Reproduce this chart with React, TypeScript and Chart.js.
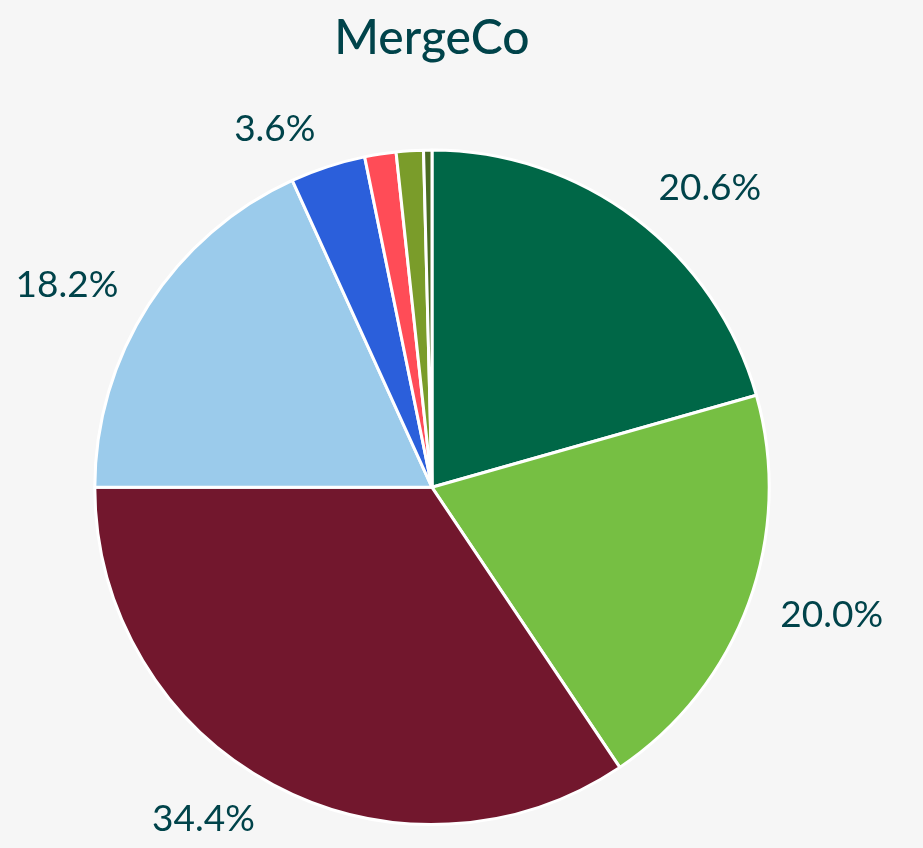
import React, { useEffect, useRef } from "react";
import { Chart, registerables } from "chart.js";

Chart.register(...registerables);

const categories = ["Segment A", "Segment B", "Segment C", "Segment D", "Segment E", "Segment F", "Segment G", "Segment H"];
const values = [20.6, 20.0, 34.4, 18.2, 3.6, 1.5, 1.3, 0.4];
const colors = ["#006747", "#76BF43", "#72172D", "#9BCBEB", "#2B5FDB", "#FF4C57", "#7A9C2A", "#4A6B22"];
const titleText = "MergeCo";
const textColor = "#00434A";
const labelThreshold = 2;

const labelPlugin = {
  id: "outerLabels",
  afterDatasetsDraw(chart: any) {
    const ctx = chart.ctx;
    const meta = chart.getDatasetMeta(0);
    const data = chart.data.datasets[0].data as number[];
    ctx.save();
    ctx.fillStyle = textColor;
    ctx.font = "37px Lato";
    ctx.textBaseline = "middle";
    meta.data.forEach((arc: any, i: number) => {
      if (data[i] < labelThreshold) return;
      const mid = (arc.startAngle + arc.endAngle) / 2;
      const cx = Math.cos(mid);
      const sy = Math.sin(mid);
      const r = arc.outerRadius * (1.09 + 0.03 * Math.abs(sy));
      const x = arc.x + cx * r;
      const y = arc.y + sy * r;
      ctx.textAlign = cx >= 0 ? "left" : "right";
      ctx.fillText(data[i].toFixed(1) + "%", x, y);
    });
    ctx.restore();
  },
};

export default function App() {
  const ref = useRef<HTMLCanvasElement>(null);
  useEffect(() => {
    document.body.style.margin = "0";
    const chart = new Chart(ref.current!, {
      type: "pie",
      data: {
        labels: categories,
        datasets: [
          {
            data: values,
            backgroundColor: colors,
            borderColor: "#ffffff",
            borderWidth: 3,
          },
        ],
      },
      options: {
        animation: false,
        responsive: false,
        layout: { padding: { top: 8, bottom: 22, left: 20, right: 79 } },
        plugins: {
          legend: { display: false },
          tooltip: { enabled: false },
          title: {
            display: true,
            text: titleText,
            color: textColor,
            font: { family: "Lato", size: 48, weight: "500" },
            padding: { top: 2, bottom: 81 },
          },
        },
      },
      plugins: [labelPlugin],
    });
    return () => chart.destroy();
  }, []);
  return (
    <div style={{ width: 923, height: 848, background: "#F6F6F6" }}>
      <canvas ref={ref} width={923} height={848} style={{ display: "block" }} />
    </div>
  );
}
